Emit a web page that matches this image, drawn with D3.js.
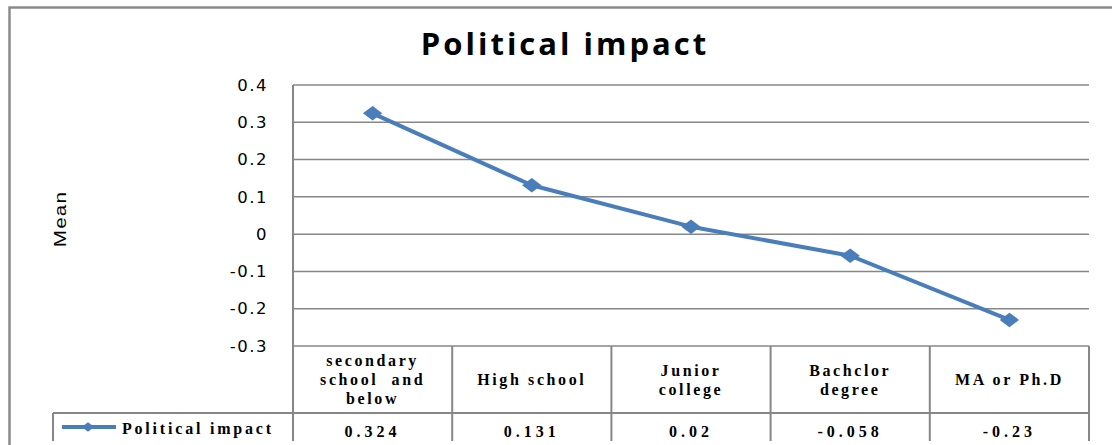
<!DOCTYPE html>
<html>
<head>
<meta charset="utf-8">
<script src="https://cdn.jsdelivr.net/npm/d3@7"></script>
<style>
  html, body { margin: 0; padding: 0; background: #fff; }
  svg { display: block; }
</style>
</head>
<body>
<svg id="chart" width="1112" height="445"></svg>
<script>
// data
const categories = ['secondary school and below', 'High school', 'Junior college', 'Bachclor degree', 'MA or Ph.D'];
const categoryLines = [['secondary', 'school  and', 'below'], ['High school'], ['Junior', 'college'], ['Bachclor', 'degree'], ['MA or Ph.D']];
const values = [0.324, 0.131, 0.02, -0.058, -0.23];
const yTicks = [0.4, 0.3, 0.2, 0.1, 0, -0.1, -0.2, -0.3];
const seriesName = 'Political impact';

const svg = d3.select('#chart');
const gridColor = '#878787';
const lineColor = '#4a7ebb';

// chart frame
svg.append('rect')
  .attr('x', 9.5).attr('y', 7.5)
  .attr('width', 1200).attr('height', 500)
  .attr('fill', 'none')
  .attr('stroke', '#8a8a8a')
  .attr('stroke-width', 2.5);

const plotLeft = 293, plotRight = 1089, plotTop = 85, plotBottom = 346;
const catRowBottom = 413, tableBottom = 441;

const x = d3.scaleBand().domain(categories).range([plotLeft, plotRight]);
const y = d3.scaleLinear().domain([-0.3, 0.4]).range([plotBottom, plotTop]);

// title
svg.append('text')
  .attr('x', 565).attr('y', 55)
  .attr('text-anchor', 'middle')
  .attr('font-family', '"Open Sans", sans-serif')
  .attr('font-weight', 'bold')
  .attr('font-size', 31)
  .attr('letter-spacing', 3)
  .text('Political impact');

// y axis label
svg.append('text')
  .attr('transform', 'translate(66,219) rotate(-90) scale(1.15,0.9)')
  .attr('text-anchor', 'middle')
  .attr('font-family', '"Liberation Sans Narrow", "Liberation Sans", sans-serif')
  .attr('font-size', 18)
  .attr('letter-spacing', 1)
  .text('Mean');

// gridlines
svg.append('g')
  .selectAll('line')
  .data(yTicks)
  .join('line')
  .attr('x1', plotLeft).attr('x2', plotRight)
  .attr('y1', d => y(d)).attr('y2', d => y(d))
  .attr('stroke', gridColor)
  .attr('stroke-width', 1.5);

// tick labels
svg.append('g')
  .selectAll('text')
  .data(yTicks)
  .join('text')
  .attr('x', 268)
  .attr('y', d => y(d))
  .attr('dy', '0.35em')
  .attr('text-anchor', 'end')
  .attr('font-family', '"DejaVu Sans", sans-serif')
  .attr('font-size', 16.5)
  .attr('letter-spacing', 1.5)
  .text(d => d);

// data table lines
const table = svg.append('g').attr('stroke', gridColor).attr('stroke-width', 2);
table.append('line').attr('x1', plotLeft).attr('x2', plotLeft).attr('y1', plotTop).attr('y2', tableBottom);
table.selectAll('line.sep')
  .data(categories)
  .join('line')
  .attr('class', 'sep')
  .attr('x1', d => x(d) + x.bandwidth()).attr('x2', d => x(d) + x.bandwidth())
  .attr('y1', plotBottom).attr('y2', tableBottom);
table.append('line').attr('x1', 53).attr('x2', plotRight).attr('y1', catRowBottom).attr('y2', catRowBottom);
table.append('line').attr('x1', 53).attr('x2', 53).attr('y1', catRowBottom).attr('y2', tableBottom);

const serif = '"Liberation Serif", "Times New Roman", serif';

// category labels
const catText = svg.append('g')
  .selectAll('text')
  .data(categories)
  .join('text')
  .attr('text-anchor', 'middle')
  .attr('font-family', serif)
  .attr('font-weight', 'bold')
  .attr('font-size', 16)
  .attr('letter-spacing', 2.6)
  .attr('transform', (d, i) => {
    const n = categoryLines[i].length;
    return `translate(${x(d) + x.bandwidth() / 2},${(plotBottom + catRowBottom) / 2 - (n - 1) * 9.5})`;
  });
catText.each(function (d, i) {
  d3.select(this).selectAll('tspan')
    .data(categoryLines[i])
    .join('tspan')
    .attr('x', 0)
    .attr('y', (t, j) => j * 19)
    .attr('dy', '0.35em')
    .attr('xml:space', 'preserve')
    .text(t => t);
});

// value row
svg.append('g')
  .selectAll('text')
  .data(values)
  .join('text')
  .attr('x', (d, i) => x(categories[i]) + x.bandwidth() / 2)
  .attr('y', 431)
  .attr('dy', '0.35em')
  .attr('text-anchor', 'middle')
  .attr('font-family', serif)
  .attr('font-weight', 'bold')
  .attr('font-size', 16)
  .attr('letter-spacing', 4)
  .text(d => String(d));

// legend key in the table
svg.append('line')
  .attr('x1', 62).attr('x2', 116)
  .attr('y1', 427).attr('y2', 427)
  .attr('stroke', lineColor)
  .attr('stroke-width', 4);
svg.append('path')
  .attr('d', d3.symbol(d3.symbolSquare, 55)())
  .attr('transform', 'translate(88,427) scale(1.2,0.9) rotate(45)')
  .attr('fill', lineColor);
svg.append('text')
  .attr('x', 122).attr('y', 428)
  .attr('dy', '0.35em')
  .attr('font-family', serif)
  .attr('font-weight', 'bold')
  .attr('font-size', 16)
  .attr('letter-spacing', 2.8)
  .text(seriesName);

// series line
const line = d3.line()
  .x((d, i) => x(categories[i]) + x.bandwidth() / 2)
  .y(d => y(d));

svg.append('path')
  .datum(values)
  .attr('d', line)
  .attr('fill', 'none')
  .attr('stroke', lineColor)
  .attr('stroke-width', 4)
  .attr('stroke-linejoin', 'round');

svg.append('g')
  .selectAll('path')
  .data(values)
  .join('path')
  .attr('d', d3.symbol(d3.symbolSquare, 130)())
  .attr('transform', (d, i) => `translate(${x(categories[i]) + x.bandwidth() / 2},${y(d)}) scale(1.2,0.9) rotate(45)`)
  .attr('fill', lineColor);
</script>
</body>
</html>
